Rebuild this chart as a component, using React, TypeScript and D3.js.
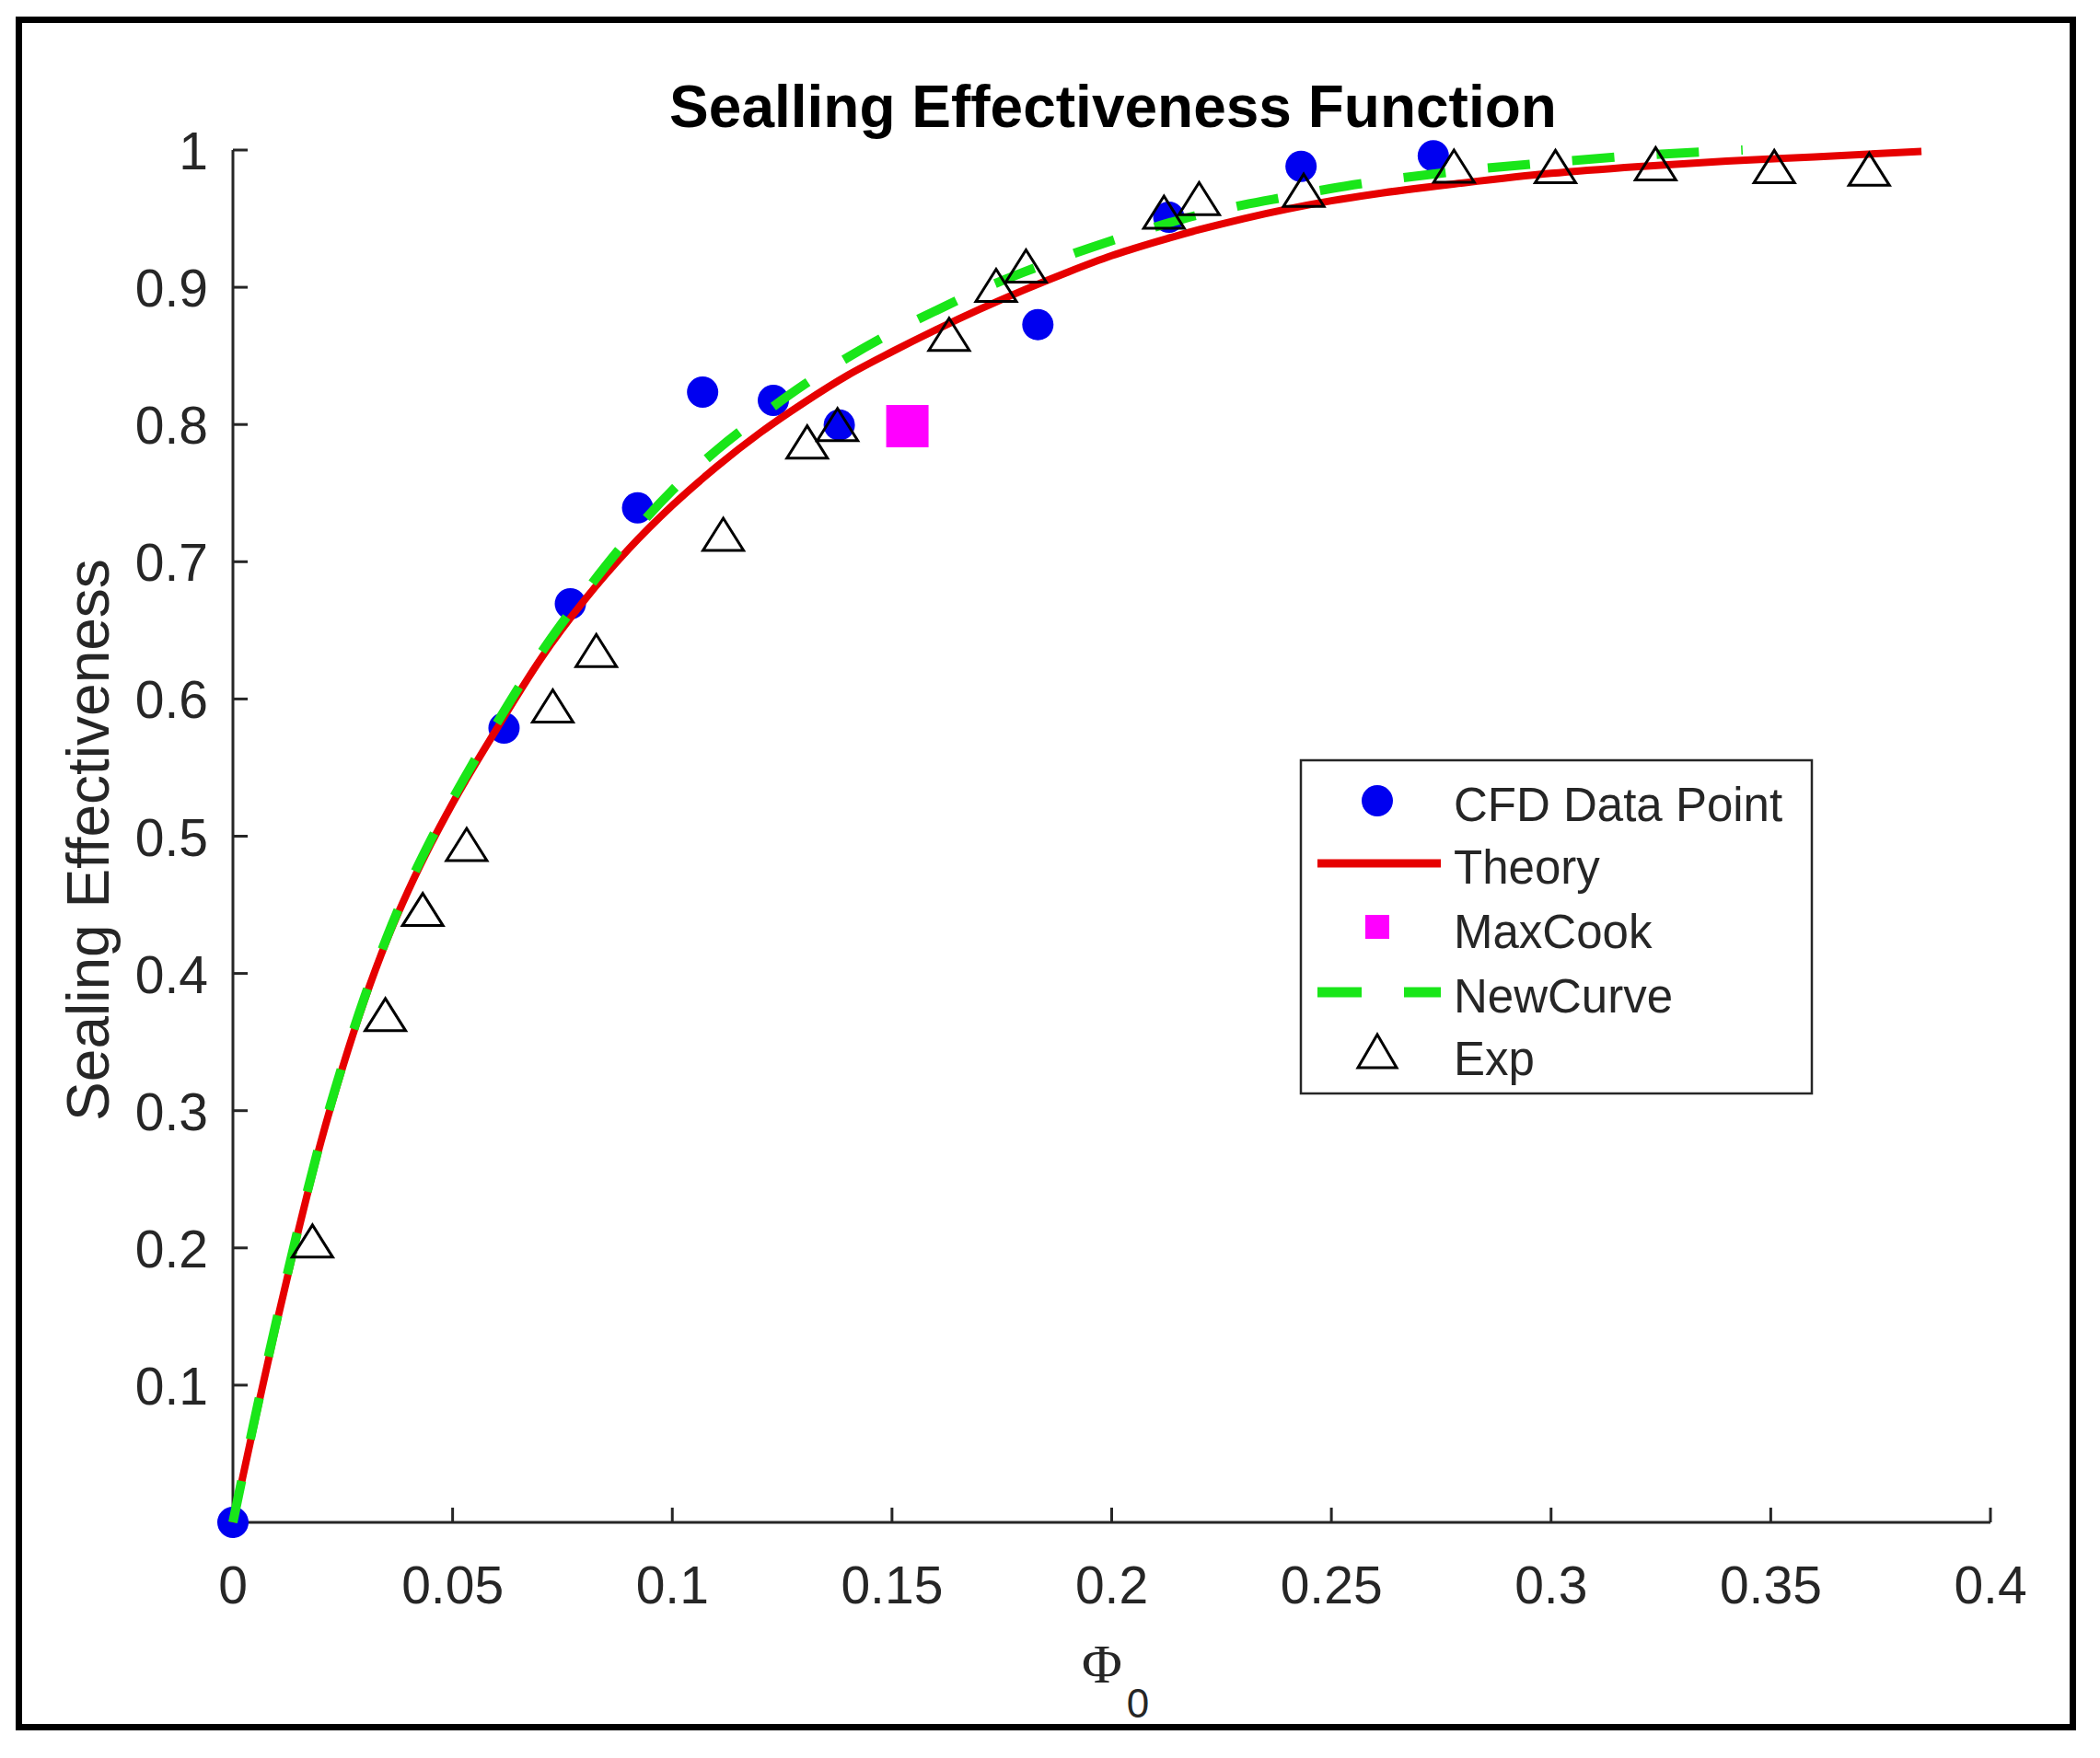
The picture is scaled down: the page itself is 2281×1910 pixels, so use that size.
import React from "react";
import * as d3 from "d3";

// ---- data ----
const cfdX = [0, 0.0617, 0.0768, 0.0921, 0.1069, 0.123, 0.138, 0.1832, 0.213, 0.2431, 0.2732];
const cfdY = [0, 0.5788, 0.6694, 0.7393, 0.8236, 0.8176, 0.7997, 0.8728, 0.951, 0.9881, 0.9958];

const theoryX = [0, 0.005, 0.01, 0.015, 0.02, 0.025, 0.03, 0.035, 0.04, 0.045, 0.05, 0.06, 0.07, 0.08, 0.09, 0.1, 0.11, 0.12, 0.13, 0.14, 0.15, 0.16, 0.17, 0.18, 0.19, 0.2, 0.21, 0.22, 0.23, 0.24, 0.25, 0.26, 0.28, 0.3, 0.32, 0.34, 0.36, 0.3843];
const theoryY = [0, 0.074, 0.146, 0.214, 0.277, 0.332, 0.381, 0.424, 0.461, 0.494, 0.524, 0.578, 0.629, 0.672, 0.709, 0.741, 0.769, 0.794, 0.816, 0.836, 0.853, 0.869, 0.884, 0.898, 0.911, 0.923, 0.933, 0.942, 0.95, 0.957, 0.963, 0.968, 0.976, 0.983, 0.988, 0.992, 0.995, 0.999];

const maxCookX = [0.1535];
const maxCookY = [0.7988];

const newCurveX = [0, 0.005, 0.01, 0.015, 0.02, 0.025, 0.03, 0.035, 0.04, 0.045, 0.05, 0.06, 0.07, 0.08, 0.09, 0.1, 0.11, 0.12, 0.13, 0.14, 0.15, 0.16, 0.17, 0.18, 0.19, 0.2, 0.21, 0.22, 0.23, 0.24, 0.25, 0.26, 0.28, 0.3, 0.32, 0.3436];
const newCurveY = [0, 0.076, 0.148, 0.216, 0.279, 0.334, 0.383, 0.426, 0.464, 0.497, 0.527, 0.582, 0.633, 0.677, 0.717, 0.752, 0.781, 0.806, 0.829, 0.849, 0.867, 0.883, 0.898, 0.911, 0.923, 0.934, 0.944, 0.953, 0.96, 0.966, 0.972, 0.977, 0.985, 0.991, 0.996, 1.0];

const expX = [0.0181, 0.0347, 0.0432, 0.0532, 0.0728, 0.0827, 0.1116, 0.1307, 0.1376, 0.163, 0.1737, 0.1805, 0.2119, 0.2199, 0.2437, 0.2779, 0.301, 0.3238, 0.3508, 0.3724];
const expY = [0.205, 0.37, 0.4466, 0.494, 0.5949, 0.6353, 0.72, 0.7873, 0.8, 0.8657, 0.9014, 0.9155, 0.9547, 0.9646, 0.9707, 0.9883, 0.988, 0.99, 0.988, 0.986];

const xTicks = [0, 0.05, 0.1, 0.15, 0.2, 0.25, 0.3, 0.35, 0.4];
const xTickLabels = ["0", "0.05", "0.1", "0.15", "0.2", "0.25", "0.3", "0.35", "0.4"];
const yTicks = [0.1, 0.2, 0.3, 0.4, 0.5, 0.6, 0.7, 0.8, 0.9, 1];
const yTickLabels = ["0.1", "0.2", "0.3", "0.4", "0.5", "0.6", "0.7", "0.8", "0.9", "1"];

const legendLabels = ["CFD Data Point", "Theory", "MaxCook", "NewCurve", "Exp"];

const titleText = "Sealling Effectiveness Function";
const yLabelText = "Sealing Effectiveness";

// ---- layout ----
const W = 2281;
const H = 1910;
const X0 = 253, X1 = 2162;
const Y0 = 1654, Y1 = 163;
const AX = "#262626";
const SANS = "'Liberation Sans', Arial, Helvetica, sans-serif";

const BLUE = "#0000f0";
const RED = "#e60000";
const GREEN = "#19e619";
const MAGENTA = "#ff00ff";

function tri(cx: number, cy: number, hw: number, hh: number) {
  return `M${cx},${cy - hh}L${cx + hw},${cy + hh}L${cx - hw},${cy + hh}Z`;
}

export default function App() {
  const x = d3.scaleLinear().domain([0, 0.4]).range([X0, X1]);
  const y = d3.scaleLinear().domain([0, 1]).range([Y0, Y1]);

  const line = d3
    .line<[number, number]>()
    .x((d) => x(d[0]))
    .y((d) => y(d[1]))
    .curve(d3.curveMonotoneX);

  const theoryPts = theoryX.map((v, i) => [v, theoryY[i]] as [number, number]);
  const newPts = newCurveX.map((v, i) => [v, newCurveY[i]] as [number, number]);

  const legX = 1413, legY = 826, legW = 555, legH = 362;
  const rowC = [870, 938, 1007, 1078, 1142];
  const rowB = [892, 960, 1030, 1100, 1168];
  const mx = 1496;

  return (
    <svg
      width={W}
      height={H}
      viewBox={`0 0 ${W} ${H}`}
      style={{ position: "absolute", left: 0, top: 0, background: "#fff" }}
    >
      <rect x={0} y={0} width={W} height={H} fill="#fff" />
      {/* outer frame */}
      <rect x={20.5} y={21.5} width={2231} height={1855} fill="none" stroke="#000" strokeWidth={7} />

      {/* title */}
      <text x={1209} y={138} textAnchor="middle" fontFamily={SANS} fontWeight="bold" fontSize={64} fill="#000">
        {titleText}
      </text>

      {/* axes */}
      <line x1={X0} y1={Y0} x2={X1} y2={Y0} stroke={AX} strokeWidth={3} />
      <line x1={X0} y1={Y0} x2={X0} y2={Y1} stroke={AX} strokeWidth={3} />
      {xTicks.map((t, i) => (
        <g key={"xt" + i}>
          <line x1={x(t)} x2={x(t)} y1={Y0} y2={Y0 - 16} stroke={AX} strokeWidth={3} />
          <text x={x(t)} y={1742} textAnchor="middle" fontFamily={SANS} fontSize={57} fill={AX}>
            {xTickLabels[i]}
          </text>
        </g>
      ))}
      {yTicks.map((t, i) => (
        <g key={"yt" + i}>
          <line x1={X0} x2={X0 + 16} y1={y(t)} y2={y(t)} stroke={AX} strokeWidth={3} />
          <text x={226} y={y(t) + 21} textAnchor="end" fontFamily={SANS} fontSize={57} fill={AX}>
            {yTickLabels[i]}
          </text>
        </g>
      ))}

      {/* axis labels */}
      <text
        transform={`translate(118, ${(Y0 + Y1) / 2 + 4}) rotate(-90)`}
        textAnchor="middle"
        fontFamily={SANS}
        fontSize={64}
        fill={AX}
      >
        {yLabelText}
      </text>
      <text x={1197} y={1828} textAnchor="middle" fontFamily="'Liberation Serif', 'Times New Roman', serif" fontSize={60} fill={AX}>
        Φ
      </text>
      <text x={1236} y={1866} textAnchor="middle" fontFamily={SANS} fontSize={44} fill={AX}>
        0
      </text>

      {/* CFD points */}
      {cfdX.map((v, i) => (
        <circle key={"c" + i} cx={x(v)} cy={y(cfdY[i])} r={17} fill={BLUE} />
      ))}
      {/* Theory */}
      <path d={line(theoryPts) || ""} fill="none" stroke={RED} strokeWidth={8} />
      {/* MaxCook */}
      {maxCookX.map((v, i) => (
        <rect key={"m" + i} x={x(v) - 23} y={y(maxCookY[i]) - 23} width={46} height={46} fill={MAGENTA} />
      ))}
      {/* NewCurve */}
      <path d={line(newPts) || ""} fill="none" stroke={GREEN} strokeWidth={10} strokeDasharray="46 46" />
      {/* Exp */}
      {expX.map((v, i) => (
        <path key={"e" + i} d={tri(x(v), y(expY[i]), 22, 17.5)} fill="none" stroke="#000" strokeWidth={3} strokeLinejoin="miter" />
      ))}

      {/* legend */}
      <rect x={legX} y={legY} width={legW} height={legH} fill="#fff" stroke={AX} strokeWidth={2.5} />
      <circle cx={mx} cy={rowC[0]} r={17} fill={BLUE} />
      <line x1={1431} x2={1565} y1={rowC[1]} y2={rowC[1]} stroke={RED} strokeWidth={9} />
      <rect x={mx - 13} y={rowC[2] - 13} width={26} height={26} fill={MAGENTA} />
      <line x1={1431} x2={1565} y1={rowC[3]} y2={rowC[3]} stroke={GREEN} strokeWidth={11} strokeDasharray="48 46" />
      <path d={tri(mx, rowC[4], 21, 18)} fill="none" stroke="#000" strokeWidth={3} />
      {legendLabels.map((s, i) => (
        <text key={"l" + i} x={1579} y={rowB[i]} fontFamily={SANS} fontSize={51} fill={AX}>
          {s}
        </text>
      ))}
    </svg>
  );
}
